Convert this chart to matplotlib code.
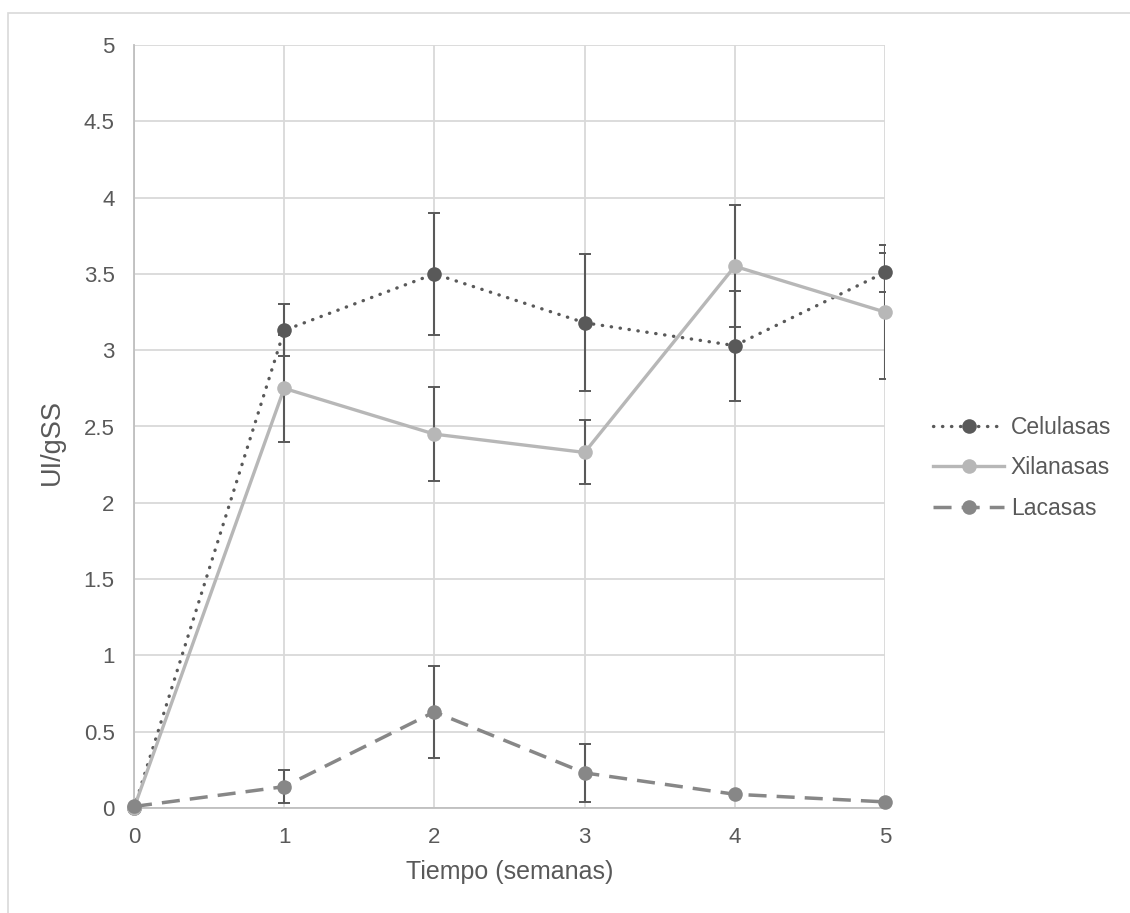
import matplotlib
matplotlib.use("Agg")
import matplotlib.pyplot as plt
from matplotlib.patches import Rectangle

# Data
semanas = [0, 1, 2, 3, 4, 5]
celulasas = [0.0, 3.13, 3.50, 3.18, 3.03, 3.51]
celulasas_err = [0.0, 0.17, 0.40, 0.45, 0.36, 0.13]
xilanasas = [0.0, 2.75, 2.45, 2.33, 3.55, 3.25]
xilanasas_err = [0.0, 0.35, 0.31, 0.21, 0.40, 0.44]
lacasas = [0.01, 0.14, 0.63, 0.23, 0.09, 0.04]
lacasas_err = [0.0, 0.11, 0.30, 0.19, 0.0, 0.0]
yticks = [0, 0.5, 1, 1.5, 2, 2.5, 3, 3.5, 4, 4.5, 5]
ytick_labels = ["0", "0.5", "1", "1.5", "2", "2.5", "3", "3.5", "4", "4.5", "5"]

plt.rcParams['font.family'] = ['Liberation Sans', 'DejaVu Sans']

fig = plt.figure(figsize=(11.3, 9.13), dpi=100)
ax = fig.add_axes([134 / 1130, 1 - 808 / 913, 751 / 1130, 763 / 913])

err_col = '#595959'
txt_col = '#595959'
series = [
    ("Celulasas", celulasas, celulasas_err, '#595959', (0, (0.1, 2.6)), 2.4, 'round'),
    ("Xilanasas", xilanasas, xilanasas_err, '#b7b7b7', '-', 2.4, 'butt'),
    ("Lacasas", lacasas, lacasas_err, '#878787', (0, (5.2, 2.9)), 2.5, 'butt'),
]

for name, vals, errs, col, ls, lw, cap in series:
    ax.errorbar(semanas, vals, yerr=errs, fmt='none', ecolor=err_col,
                elinewidth=1.5, capsize=4, capthick=1.4, zorder=3)
for name, vals, errs, col, ls, lw, cap in series:
    ax.plot(semanas, vals, color=col, linestyle=ls, linewidth=lw,
            dash_capstyle=cap, marker='o', markersize=10.5, markeredgewidth=0,
            label=name, zorder=4, clip_on=False)

ax.set_xlim(0, 5)
ax.set_ylim(0, 5)
ax.set_xticks(semanas)
ax.set_yticks(yticks)
ax.set_yticklabels(ytick_labels)
ax.tick_params(axis='both', length=0, labelsize=16, colors=txt_col, pad=14)
ax.grid(True, color='#d9d9d9', linewidth=1.3)
ax.set_axisbelow(True)
for s in ['top', 'right']:
    ax.spines[s].set_visible(False)
for s in ['left', 'bottom']:
    ax.spines[s].set_color('#bfbfbf')
    ax.spines[s].set_linewidth(1.3)
ax.patch.set_visible(False)

ax.set_xlabel("Tiempo (semanas)", fontsize=18, color=txt_col, labelpad=8)
ax.set_ylabel("UI/gSS", fontsize=19.5, color=txt_col)
ax.yaxis.set_label_coords(-0.092, 0.48)

leg = ax.legend(loc='center left', bbox_to_anchor=(933 / 1130, 1 - 468 / 913),
                bbox_transform=fig.transFigure, frameon=False, borderpad=0,
                borderaxespad=0, fontsize=16.5, labelcolor=txt_col,
                handlelength=3.1, handletextpad=0.3, labelspacing=0.75)

fig.patches.append(Rectangle((8 / 1130, -0.05), 1.1, 1 - 13 / 913 + 0.05,
                             transform=fig.transFigure, fill=False,
                             edgecolor='#d9d9d9', linewidth=1.2))

fig.savefig("out.png", dpi=100)
